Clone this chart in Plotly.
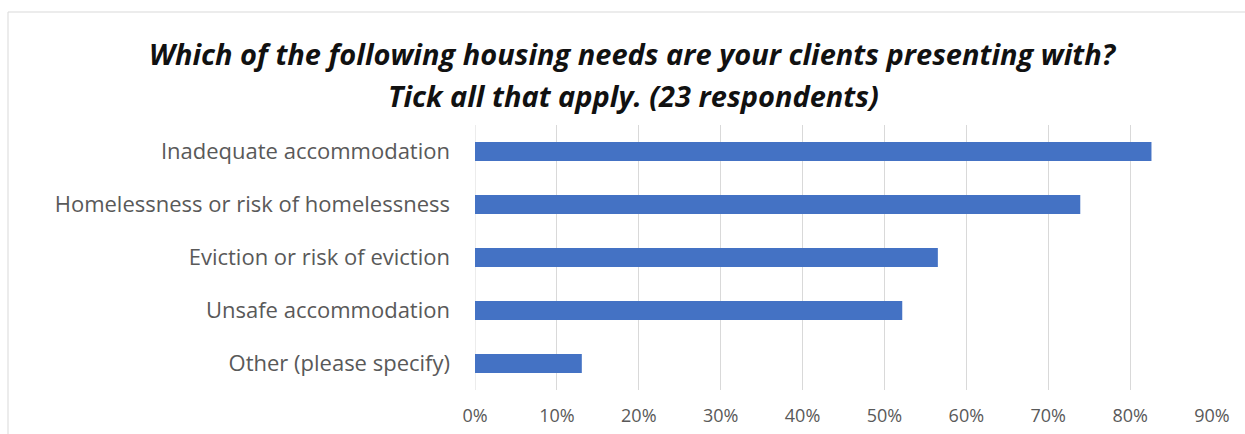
import plotly.graph_objects as go

# Survey responses: share of respondents ticking each housing need (n = 23)
categories = [
    "Inadequate accommodation",
    "Homelessness or risk of homelessness",
    "Eviction or risk of eviction",
    "Unsafe accommodation",
    "Other (please specify)",
]
counts = [19, 17, 13, 12, 3]
respondents = 23
shares = [c / respondents for c in counts]

tick_vals = [i / 10 for i in range(10)]
tick_text = [f"{i * 10}%" for i in range(10)]

title_lines = [
    "Which of the following housing needs are your clients presenting with?",
    "Tick all that apply. (23 respondents)",
]

W, H = 1245, 434
ML, MR, MT, MB = 475, 33, 125, 44

fig = go.Figure(
    go.Bar(
        x=shares,
        y=categories,
        orientation="h",
        marker=dict(color="#4472C4", line=dict(width=0)),
        width=0.36,
    )
)

# Light chart-area frame along the top and left edges
pw, ph = W - ML - MR, H - MT - MB
fx0 = (8 - ML) / pw
fy1 = (H - MB - 12) / ph
fig.add_shape(type="line", xref="paper", yref="paper",
              x0=fx0, x1=1.2, y0=fy1, y1=fy1,
              line=dict(color="#D9D9D9", width=1))
fig.add_shape(type="line", xref="paper", yref="paper",
              x0=fx0, x1=fx0, y0=-0.3, y1=fy1,
              line=dict(color="#D9D9D9", width=1))

# Two-line bold italic title, centred over the whole chart
for i, line in enumerate(title_lines):
    fig.add_annotation(
        text=f"<b><i>{line}</i></b>",
        xref="paper", yref="paper",
        x=(633 - ML) / pw,
        y=(H - MB - (53 + 42 * i)) / ph,
        xanchor="center", yanchor="middle",
        showarrow=False,
        font=dict(family="Open Sans", size=29, color="#111111"),
    )

fig.update_layout(
    width=W,
    height=H,
    margin=dict(l=ML, r=MR, t=MT, b=MB, autoexpand=False),
    paper_bgcolor="white",
    plot_bgcolor="white",
    showlegend=False,
    xaxis=dict(
        range=[0, 0.9],
        tickvals=tick_vals,
        ticktext=tick_text,
        showgrid=True,
        gridcolor="#D9D9D9",
        gridwidth=1,
        zeroline=False,
        showline=False,
        ticks="",
        automargin=False,
        ticklabelstandoff=13,
        tickfont=dict(family="Open Sans", size=18, color="#595959"),
        fixedrange=True,
    ),
    yaxis=dict(
        categoryorder="array",
        categoryarray=categories[::-1],
        showgrid=False,
        zeroline=False,
        showline=False,
        ticks="",
        automargin=False,
        ticklabelstandoff=24,
        tickfont=dict(family="Open Sans", size=22, color="#595959"),
        fixedrange=True,
    ),
)
fig.add_shape(type="line", xref="x", yref="paper", x0=0, x1=0, y0=0, y1=1,
              line=dict(color="#D9D9D9", width=1), layer="below")

fig.write_html("out.html")
